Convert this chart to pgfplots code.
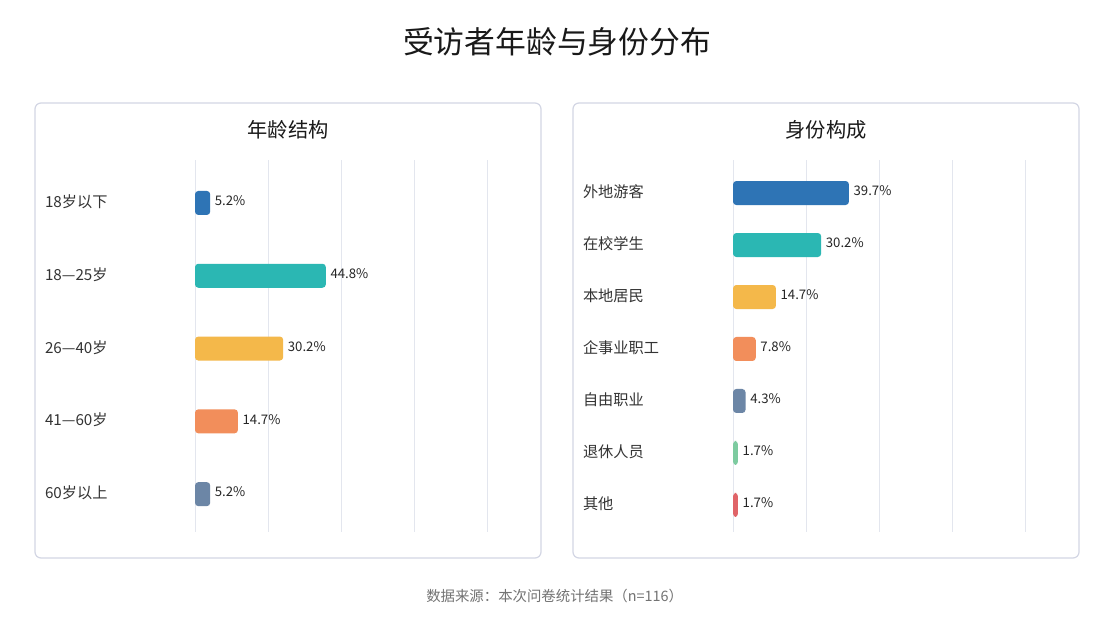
\documentclass[border=0pt]{standalone}
\usepackage{fontspec}
\setmainfont{Noto Sans CJK SC}
\usepackage{pgfplots}
\pgfplotsset{compat=1.18}
\definecolor{cBlue}{HTML}{2E74B5}
\definecolor{cTeal}{HTML}{2BB7B3}
\definecolor{cYellow}{HTML}{F4B84A}
\definecolor{cOrange}{HTML}{F28E5B}
\definecolor{cSlate}{HTML}{6C86A6}
\definecolor{cGreen}{HTML}{7DCBA0}
\definecolor{cRed}{HTML}{E06468}
\definecolor{cBorder}{HTML}{D3D6E4}
\definecolor{cGrid}{HTML}{E3E6EE}
\pgfplotsset{panel/.style={
  scale only axis, width=219pt, height=279pt,
  xbar, bar width=18pt, bar shift=0pt,
  xmin=0, xmax=100, xtick={0,25,50,75,100}, xticklabels={},
  xmajorgrids, grid style={cGrid, line width=0.75pt},
  y dir=reverse,
  axis line style={draw=none}, major tick length=0pt,
  yticklabel style={anchor=west, xshift=-116pt, yshift=1pt, font=\fontsize{11.4}{13}\selectfont, text=black!80},
  nodes near coords={\pgfmathprintnumber[fixed,fixed zerofill,precision=1]{\pgfplotspointmeta}\%},
  nodes near coords style={font=\fontsize{9.9}{11}\selectfont, text=black!85, anchor=west, yshift=1.5pt},
  every axis plot/.append style={draw=none, rounded corners=2.5pt, bar shift=0pt},
  point meta=x,
  /pgf/number format/assume math mode=true,
  clip=false,
}}
\begin{document}
\begin{tikzpicture}
\path[use as bounding box] (0,0) rectangle (834.75pt,463.5pt);
\fill[white] (0,0) rectangle (834.75pt,463.5pt);
\draw[cBorder, line width=0.9pt, rounded corners=4.5pt] (26.25pt,45pt) rectangle (405.75pt,386.25pt);
\draw[cBorder, line width=0.9pt, rounded corners=4.5pt] (429.75pt,45pt) rectangle (809.25pt,386.25pt);
\node[font=\fontsize{23.1}{28}\selectfont, text=black!90] at (417.75pt,432pt) {受访者年龄与身份分布};
\node[font=\fontsize{15.2}{18}\selectfont, text=black!90] at (216pt,366pt) {年龄结构};
\node[font=\fontsize{15.2}{18}\selectfont, text=black!90] at (619.5pt,366pt) {身份构成};
\node[font=\fontsize{10.8}{13}\selectfont, text=black!55] at (416pt,16.5pt) {数据来源：本次问卷统计结果（n=116）};

\begin{axis}[panel, at={(146.25pt,64.5pt)}, anchor=south west,
  ymin=-0.59, ymax=4.52, ytick={0,1,2,3,4},
  yticklabels={18岁以下,18—25岁,26—40岁,41—60岁,60岁以上}]
\addplot[fill=cBlue] coordinates {(5.2,0)};
\addplot[fill=cTeal] coordinates {(44.8,1)};
\addplot[fill=cYellow] coordinates {(30.2,2)};
\addplot[fill=cOrange] coordinates {(14.7,3)};
\addplot[fill=cSlate] coordinates {(5.2,4)};
\end{axis}

\begin{axis}[panel, at={(549.75pt,64.5pt)}, anchor=south west,
  ymin=-0.635, ymax=6.52, ytick={0,1,2,3,4,5,6},
  yticklabels={外地游客,在校学生,本地居民,企事业职工,自由职业,退休人员,其他}]
\addplot[fill=cBlue] coordinates {(39.7,0)};
\addplot[fill=cTeal] coordinates {(30.2,1)};
\addplot[fill=cYellow] coordinates {(14.7,2)};
\addplot[fill=cOrange] coordinates {(7.8,3)};
\addplot[fill=cSlate] coordinates {(4.3,4)};
\addplot[fill=cGreen] coordinates {(1.7,5)};
\addplot[fill=cRed] coordinates {(1.7,6)};
\end{axis}
\end{tikzpicture}
\end{document}
